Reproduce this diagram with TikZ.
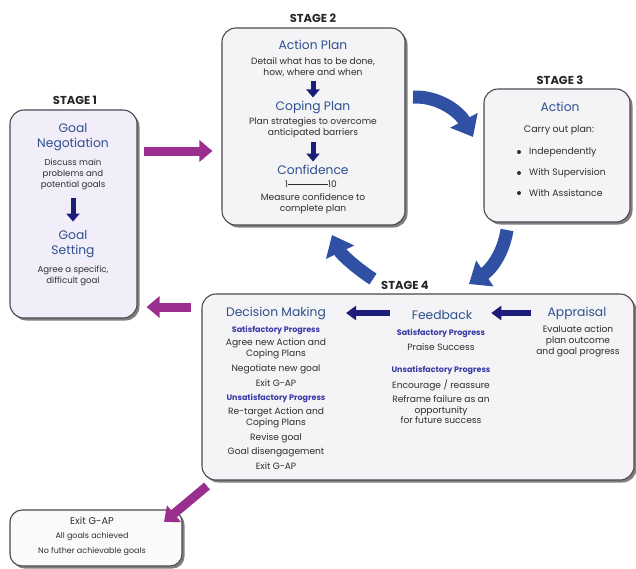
\documentclass[tikz,border=0pt]{standalone}
\usepackage{fontspec}
\setmainfont{Poppins}
\usetikzlibrary{arrows.meta,shadows,calc}

\definecolor{boxline}{HTML}{4A4A50}
\definecolor{lavender}{HTML}{F2EEF9}
\definecolor{paleface}{HTML}{F4F4F6}
\definecolor{titleblue}{HTML}{2D4F8E}
\definecolor{bodygray}{HTML}{2E2E2E}
\definecolor{subblue}{HTML}{3838A6}
\definecolor{navy}{HTML}{1C1C7A}
\definecolor{cyclblue}{HTML}{2F50A3}
\definecolor{plum}{HTML}{9A2F90}

\begin{document}
\begin{tikzpicture}[x=1pt,y=-1pt,
  stagebox/.style={draw=boxline, line width=1.1pt, rounded corners=14pt,
    drop shadow={shadow xshift=2.5pt, shadow yshift=-2.5pt, fill=black, opacity=0.5},
    inner sep=0pt},
  stagelabel/.style={font=\fontsize{11.5}{13}\selectfont\bfseries, text=black!85, inner sep=0pt},
  title/.style={font=\fontsize{12.3}{15}\selectfont, text=titleblue, align=center, inner sep=0pt},
  body/.style={font=\fontsize{9.1}{11}\selectfont, text=bodygray, align=center, inner sep=0pt},
  smallbody/.style={body, font=\fontsize{8.6}{11}\selectfont},
  sub/.style={font=\fontsize{8}{10}\selectfont\bfseries, text=subblue, inner sep=0pt},
  item/.style={font=\fontsize{9.3}{11}\selectfont, text=bodygray, anchor=west, inner sep=0pt},
  navyarrow/.style={draw=navy, line width=5pt, -{Triangle[length=8pt,width=13pt]}},
  flowarrow/.style={draw=navy, line width=6pt, -{Triangle[length=10pt,width=14pt]}},
  plumarrow/.style={draw=plum, line width=9pt, -{Triangle[length=13pt,width=21pt]}},
  cyclearrow/.style={draw=cyclblue, line width=13pt, -{Triangle[length=19pt,width=30pt]}}
]
\useasboundingbox (0,0) rectangle (636,568);

% ---------- boxes ----------
\node[stagebox, fill=lavender, minimum width=127pt, minimum height=208pt] (s1) at (73.5,214) {};
\node[stagebox, fill=paleface, minimum width=183pt, minimum height=197pt] (s2) at (313.5,126.5) {};
\node[stagebox, fill=paleface, minimum width=146pt, minimum height=133pt] (s3) at (557,155.5) {};
\node[stagebox, fill=paleface, minimum width=432pt, minimum height=186pt] (s4) at (418,387) {};
\node[stagebox, fill=white!96!gray, rounded corners=12pt, minimum width=172pt, minimum height=56pt] (ex) at (96,538) {};

% ---------- stage labels ----------
\node[stagelabel] (l1) at (75,100) {STAGE 1};
\node[stagelabel] (l2) at (313,18) {STAGE 2};
\node[stagelabel] (l3) at (560,80) {STAGE 3};
\node[stagelabel] (l4) at (405,285) {STAGE 4};

% ---------- stage 1 ----------
\node[title] (gneg) at (73,137.5) {Goal\\Negotiation};
\node[smallbody] (gnegtx) at (73,174) {Discuss main\\problems and\\potential goals};
\node[title] (gset) at (73,244.5) {Goal\\Setting};
\node[smallbody] (gsettx) at (73,275.5) {Agree a specific,\\difficult goal};
\draw[navyarrow, shorten <=8pt, shorten >=9pt] (gnegtx.south) -- (gset.north);

% ---------- stage 2 ----------
\node[title] (ap) at (313,45) {Action Plan};
\node[body] (aptx) at (313,67) {Detail what has to be done,\\how, where and when};
\node[title] (cp) at (313,107) {Coping Plan};
\node[body] (cptx) at (313,127.5) {Plan strategies to overcome\\anticipated barriers};
\node[title] (cf) at (313,169.5) {Confidence};
\node[body] (scale) at (311,184) {1\rule[0.6ex]{40pt}{0.5pt}10};
\node[body] (cftx) at (313,203.5) {Measure confidence to\\complete plan};
\draw[navyarrow, shorten <=4pt, shorten >=3pt] (aptx.south) -- (cp.north);
\draw[navyarrow, shorten <=4pt, shorten >=3pt] (cptx.south) -- (cf.north);

% ---------- stage 3 ----------
\node[title] (act) at (560,107) {Action};
\node[body, font=\fontsize{9.5}{11}\selectfont] (acttx) at (559,130) {Carry out plan:};
\foreach \y/\t [count=\i] in {152/Independently,173/With Supervision,193/With Assistance}{
  \fill[bodygray] (519,\y) circle (2pt);
  \node[item] (b\i) at (529,\y) {\t};
}

% ---------- stage 4 ----------
\node[title] (dm) at (276,313) {Decision Making};
\node[title] (fb) at (442,315) {Feedback};
\node[title] (apr) at (577,313) {Appraisal};
\draw[flowarrow, shorten <=22pt, shorten >=20pt] (fb.west |- dm) -- (dm.east);
\draw[flowarrow, shorten <=17pt, shorten >=19pt] (apr.west) -- (fb.east |- apr);

\node[sub] (dms1) at (276,330) {Satisfactory Progress};
\node[body] (dm1) at (276,349) {Agree new Action and\\Coping Plans};
\node[body] (dm2) at (276,369) {Negotiate new goal};
\node[body] (dm3) at (276,383) {Exit G-AP};
\node[sub] (dms2) at (276,398) {Unsatisfactory Progress};
\node[body] (dm4) at (276,418) {Re-target Action and\\Coping Plans};
\node[body] (dm5) at (276,438) {Revise goal};
\node[body] (dm6) at (276,452) {Goal disengagement};
\node[body] (dm7) at (276,466) {Exit G-AP};

\node[sub] (fbs1) at (441,333) {Satisfactory Progress};
\node[body] (fb1) at (441,347) {Praise Success};
\node[sub] (fbs2) at (441,370) {Unsatisfactory Progress};
\node[body] (fb2) at (441,385) {Encourage / reassure};
\node[body, font=\fontsize{9.1}{10.5}\selectfont] (fb3) at (441,410) {Reframe failure as an\\opportunity\\for future success};

\node[body] (aprtx) at (578,341.5) {Evaluate action\\plan outcome\\and goal progress};

% ---------- exit ----------
\node[font=\fontsize{9.8}{12}\selectfont, text=bodygray, inner sep=0pt] (ext) at (92,521) {Exit G-AP};
\node[body, font=\fontsize{8}{15}\selectfont] (extx) at (92,544.5) {All goals achieved\\No futher achievable goals};

% ---------- connectors between stages ----------
\coordinate (p1) at (0,151);
\coordinate (p2) at (0,307);
\draw[plumarrow, shorten <=6pt, shorten >=9pt] (s1.east |- p1) -- (s2.west |- p1);
\draw[plumarrow, shorten <=10pt, shorten >=9pt] (s4.west |- p2) -- (s1.east |- p2);
\coordinate (d1) at (207,486);
\coordinate (d2) at (164,522);
\draw[plumarrow] (d1) -- (d2);

\coordinate (c1a) at (413,97);
\coordinate (c1b) at (473,137);
\coordinate (c2a) at (507,230);
\coordinate (c2b) at (469,284);
\coordinate (c3a) at (373,279);
\coordinate (c3b) at (332,235);
\draw[cyclearrow] (c1a) .. controls (440,96) and (460,113) .. (c1b);
\draw[cyclearrow] (c2a) .. controls (503,255) and (490,270) .. (c2b);
\draw[cyclearrow] (c3a) .. controls (356,268) and (341,254) .. (c3b);
\end{tikzpicture}
\end{document}
